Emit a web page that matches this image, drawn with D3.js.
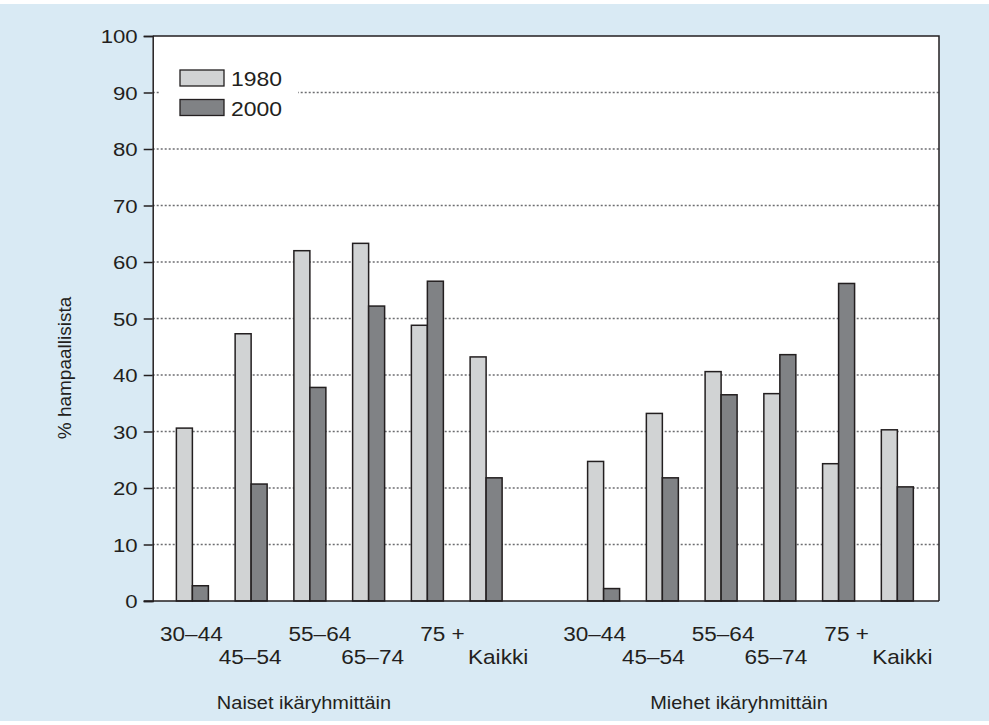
<!DOCTYPE html>
<html>
<head>
<meta charset="utf-8">
<script src="https://cdn.jsdelivr.net/npm/d3@7"></script>
<style>
  html, body { margin: 0; padding: 0; background: #ffffff; }
  svg { display: block; }
  text { font-family: "Liberation Sans", Arial, sans-serif; fill: #231f20; }
</style>
</head>
<body>
<script>
// ---------------- data ----------------
const ageGroups = ["30–44", "45–54", "55–64", "65–74", "75 +", "Kaikki"];
const years = ["1980", "2000"];
const women1980 = [30.6, 47.3, 62.0, 63.3, 48.8, 43.2];
const women2000 = [2.7, 20.7, 37.8, 52.2, 56.6, 21.8];
const men1980 = [24.7, 33.2, 40.6, 36.7, 24.3, 30.3];
const men2000 = [2.2, 21.8, 36.5, 43.6, 56.2, 20.2];
const groupTitles = ["Naiset ikäryhmittäin", "Miehet ikäryhmittäin"];
const yTicks = [0, 10, 20, 30, 40, 50, 60, 70, 80, 90, 100];
const yTitle = "% hampaallisista";

// ---------------- layout ----------------
const W = 989, H = 725;
const plot = { left: 152.7, right: 939, top: 36, bottom: 601 };
const colors = { "1980": "#d1d3d4", "2000": "#808285" };
const ink = "#231f20";
// small horizontal nudges of category labels (layout, as in the original)
const labelDxWomen = [-1, -1, 10, 4, 15, 12];
const labelDxMen = [-9, -9, 2, -4, 8, 5];

const svg = d3.select("body").append("svg").attr("width", W).attr("height", H);

svg.append("rect").attr("x", 0).attr("y", 4).attr("width", W).attr("height", 717)
  .attr("fill", "#d9eaf4");
svg.append("rect").attr("x", plot.left).attr("y", plot.top)
  .attr("width", plot.right - plot.left).attr("height", plot.bottom - plot.top)
  .attr("fill", "#ffffff");

// slots: women 0..5, gap 6, men 7..12
const rows = [];
ageGroups.forEach((g, i) => {
  rows.push({ slot: i, label: g, dx: labelDxWomen[i], "1980": women1980[i], "2000": women2000[i] });
  rows.push({ slot: i + 7, label: g, dx: labelDxMen[i], "1980": men1980[i], "2000": men2000[i] });
});

const x = d3.scaleBand().domain(d3.range(13)).range([plot.left, plot.right])
  .paddingInner(0.4553).paddingOuter(0.42).align(0.48);
const xs = d3.scaleBand().domain(years).range([0, x.bandwidth()]).padding(0);
const y = d3.scaleLinear().domain([0, 100]).range([plot.bottom, plot.top]);

// gridlines
svg.append("g").selectAll("line").data(yTicks.filter(t => t > 0 && t < 100)).join("line")
  .attr("x1", plot.left).attr("x2", plot.right)
  .attr("y1", d => y(d)).attr("y2", d => y(d))
  .attr("stroke", "#6d6e71").attr("stroke-width", 1.3).attr("stroke-dasharray", "2,2");

// frame (top + right)
svg.append("path")
  .attr("d", `M${plot.left},${plot.top}H${plot.right}V${plot.bottom}`)
  .attr("fill", "none").attr("stroke", ink).attr("stroke-width", 1.5);

// legend background + legend
const lg = svg.append("g");
lg.append("rect").attr("x", 159).attr("y", 60).attr("width", 139).attr("height", 66).attr("fill", "#ffffff");
years.forEach((yr, i) => {
  const yy = 70 + i * 29.5;
  lg.append("rect").attr("x", 180).attr("y", yy).attr("width", 44).attr("height", 16)
    .attr("fill", colors[yr]).attr("stroke", ink).attr("stroke-width", 1.3);
  lg.append("text").attr("transform", `translate(231,${yy + 16}) scale(1.12,1)`)
    .attr("font-size", 20.5).text(yr);
});

// bars
const gBars = svg.append("g");
rows.forEach(r => {
  years.forEach(yr => {
    gBars.append("rect")
      .attr("x", x(r.slot) + xs(yr))
      .attr("y", y(r[yr]))
      .attr("width", xs.bandwidth())
      .attr("height", y(0) - y(r[yr]))
      .attr("fill", colors[yr]).attr("stroke", ink).attr("stroke-width", 1.5);
  });
});

// y axis
const yAxis = d3.axisLeft(y).tickValues(yTicks).tickSize(9).tickPadding(6).tickFormat(d3.format("d"));
const ga = svg.append("g").attr("transform", `translate(${plot.left},0)`).call(yAxis);
ga.select(".domain").attr("stroke", ink).attr("stroke-width", 1.5);
ga.selectAll(".tick line").attr("stroke", ink).attr("stroke-width", 1.5);
ga.selectAll(".tick text").each(function () {
  const t = d3.select(this);
  t.attr("font-size", 18.5).attr("font-family", "Liberation Sans, Arial, sans-serif")
    .attr("fill", ink).attr("x", null).attr("dy", null)
    .attr("transform", "translate(-15,6.5) scale(1.2,1)");
});

// baseline
svg.append("line").attr("x1", plot.left - 9).attr("x2", plot.right)
  .attr("y1", plot.bottom).attr("y2", plot.bottom)
  .attr("stroke", ink).attr("stroke-width", 1.6);

// x category labels (staggered)
const gx = svg.append("g");
rows.forEach(r => {
  const cx = x(r.slot) + x.bandwidth() / 2 + r.dx;
  const rowY = (ageGroups.indexOf(r.label) % 2 === 0) ? 641 : 664;
  gx.append("text").attr("transform", `translate(${cx},${rowY}) scale(1.1,1)`)
    .attr("text-anchor", "middle").attr("font-size", 20.5).text(r.label);
});

// group titles
const titleX = [304, 739];
groupTitles.forEach((t, i) => {
  svg.append("text").attr("transform", `translate(${titleX[i]},709) scale(1.08,1)`)
    .attr("text-anchor", "middle").attr("font-size", 18.5).text(t);
});

// y title
svg.append("text").attr("transform", "translate(71,368) rotate(-90)")
  .attr("text-anchor", "middle").attr("font-size", 19).text(yTitle);
</script>
</body>
</html>
